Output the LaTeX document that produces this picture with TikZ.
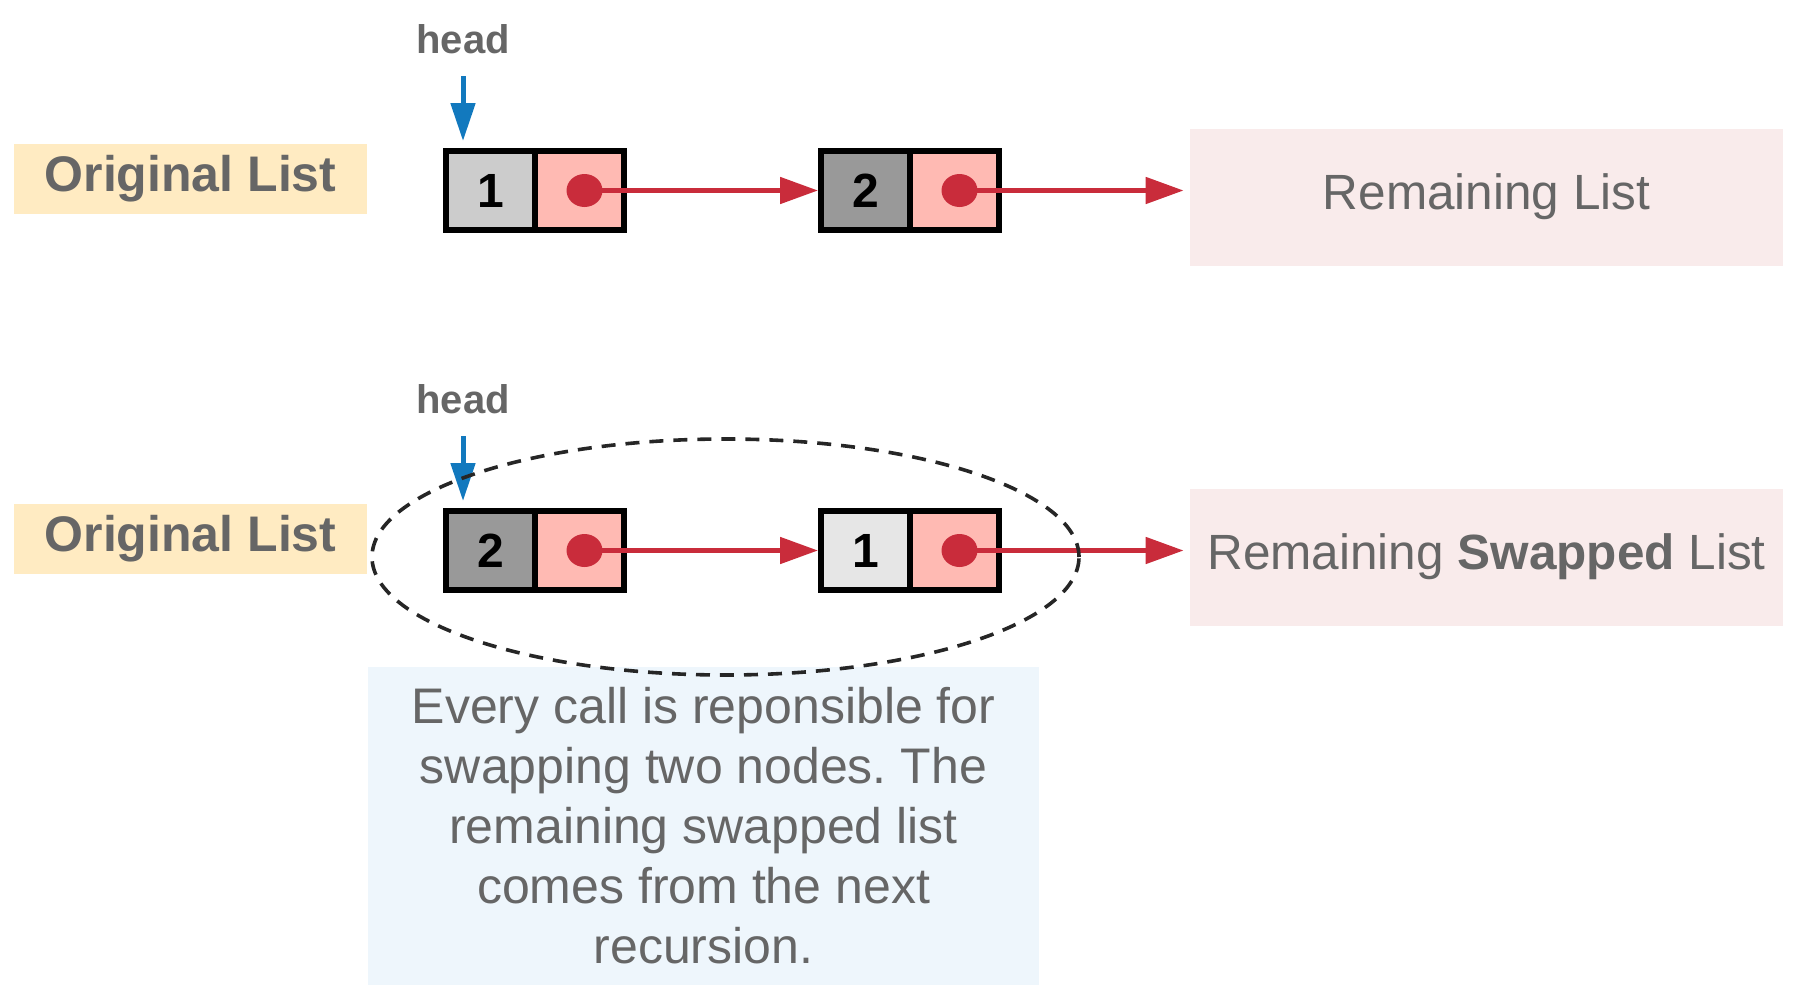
\documentclass[tikz,border=0pt]{standalone}
\usepackage{fontspec}
\setmainfont{Liberation Sans}
\frenchspacing
\usetikzlibrary{arrows.meta,shapes.geometric}
\definecolor{txtgray}{HTML}{666666}
\definecolor{tagyellow}{HTML}{FFEBC2}
\definecolor{restpink}{HTML}{F9EBEB}
\definecolor{noteblue}{HTML}{EEF6FC}
\definecolor{ptrpink}{HTML}{FFBAB3}
\definecolor{dotred}{HTML}{C92C3B}
\definecolor{headblue}{HTML}{1279BE}
\definecolor{valA}{HTML}{CCCCCC}
\definecolor{valB}{HTML}{999999}
\definecolor{valC}{HTML}{E6E6E6}
\begin{document}
\begin{tikzpicture}[x=0.5pt,y=-0.5pt,
  cellbase/.style={rectangle, draw=black, line width=3pt, minimum width=44.5pt, minimum height=39.5pt, inner sep=0pt},
  valcell/.style={cellbase, font=\fontsize{24pt}{28pt}\selectfont\bfseries, text=black},
  ptrcell/.style={cellbase, fill=ptrpink},
  ptrdot/.style={ellipse, fill=dotred, minimum width=18pt, minimum height=16.5pt, inner sep=0pt},
  redarrow/.style={draw=dotred, line width=2.5pt, -{Triangle[length=19pt,width=13pt]}},
  bluearrow/.style={draw=headblue, line width=2.5pt, -{Triangle[length=19pt,width=12pt]}},
  headtxt/.style={font=\fontsize{20pt}{24pt}\selectfont\bfseries, text=txtgray, anchor=base, inner sep=0pt},
  tagbox/.style={rectangle, fill=tagyellow, minimum width=176.5pt, minimum height=35pt, font=\fontsize{25pt}{30pt}\selectfont\bfseries, text=txtgray, inner sep=0pt},
  restbox/.style={rectangle, fill=restpink, minimum width=296.5pt, minimum height=68.5pt, font=\fontsize{24.75pt}{30pt}\selectfont, text=txtgray, inner sep=0pt},
  notebox/.style={rectangle, fill=noteblue, minimum width=335.5pt, minimum height=159pt, align=center, font=\fontsize{25pt}{30pt}\selectfont, text=txtgray, inner sep=0pt},
  scopering/.style={ellipse, draw=black!85, dash pattern=on 7pt off 5pt, line width=1.8pt, minimum width=353.5pt, minimum height=118pt, inner sep=0pt}
]
\useasboundingbox (0,0) rectangle (1798,1001);

% ---- top row ----
\node[tagbox] (tag1) at (190.5,178.5) {Original List};
\node[headtxt] (head1) at (463,53) {head};
\coordinate (h1s) at (463,76);
\coordinate (h1e) at (463,141);
\draw[bluearrow] (h1s) -- (h1e);

\node[valcell, fill=valA] (a1) at (490.5,190.5) {1};
\node[ptrcell] (p1) at (579.5,190.5) {};
\node[ptrdot] (d1) at (584.5,190.5) {};
\node[valcell, fill=valB] (a2) at (865.5,190.5) {2};
\node[ptrcell] (p2) at (954.5,190.5) {};
\node[ptrdot] (d2) at (959.5,190.5) {};
\node[restbox] (rem1) at (1486.5,197) {Remaining List};

\draw[redarrow] (d1.center) -- (a2.west);
\draw[redarrow, shorten >=3pt] (d2.center) -- (d2.center -| rem1.west);

% ---- bottom row ----
\node[notebox] (note) at (703.5,826) {Every call is reponsible for\\swapping two nodes. The\\remaining swapped list\\comes from the next\\recursion.};

\node[tagbox] (tag2) at (190.5,538.5) {Original List};
\node[headtxt] (head2) at (463,413) {head};
\coordinate (h2s) at (463,436);
\coordinate (h2e) at (463,501);
\draw[bluearrow] (h2s) -- (h2e);

\node[valcell, fill=valB] (b1) at (490.5,550.5) {2};
\node[ptrcell] (q1) at (579.5,550.5) {};
\node[ptrdot] (e1) at (584.5,550.5) {};
\node[valcell, fill=valC] (b2) at (865.5,550.5) {1};
\node[ptrcell] (q2) at (954.5,550.5) {};
\node[ptrdot] (e2) at (959.5,550.5) {};
\node[restbox] (rem2) at (1486.5,557) {Remaining \textbf{Swapped} List};

\draw[redarrow] (e1.center) -- (b2.west);
\draw[redarrow, shorten >=3pt] (e2.center) -- (e2.center -| rem2.west);

\node[scopering] (ring) at (725.5,557) {};
\end{tikzpicture}
\end{document}
